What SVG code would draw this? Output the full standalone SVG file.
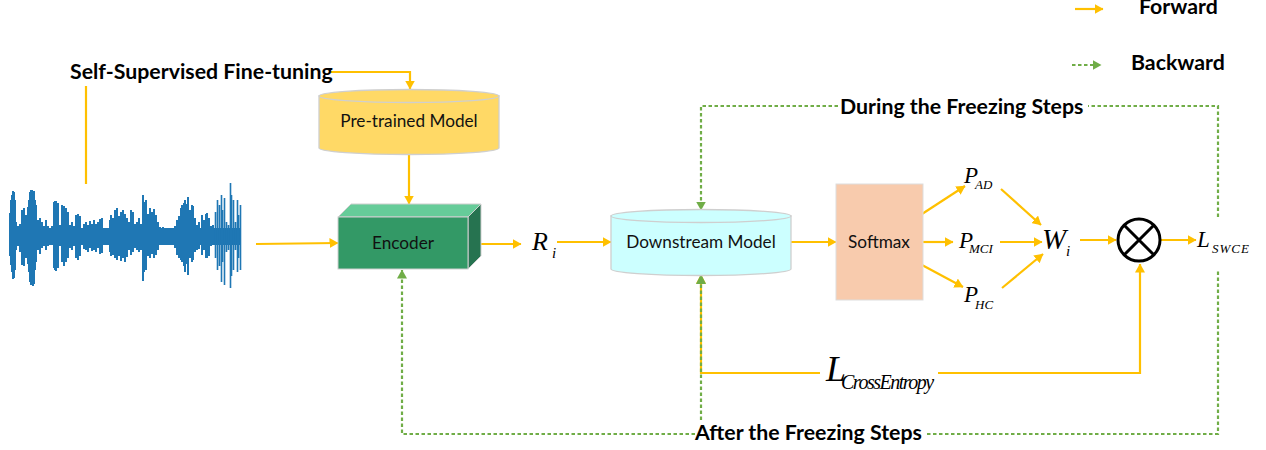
<svg xmlns="http://www.w3.org/2000/svg" width="1266" height="450" viewBox="0 0 1266 450">
<style>
.y{fill:none;stroke:#FFC000;stroke-width:2.2;marker-end:url(#ya)}
.yn{fill:none;stroke:#FFC000;stroke-width:2.2}
.g{fill:none;stroke:#70AD47;stroke-width:2.2;stroke-dasharray:3.5 2.5}
.ga{marker-end:url(#ga)}
.b{font-family:Lato,"Liberation Sans",sans-serif;font-weight:700;font-size:21.3px;fill:#000}
.n{font-family:Lato,"Liberation Sans",sans-serif;font-size:17.2px;fill:#111;text-anchor:middle}
.m{font-family:"Liberation Serif",serif;font-style:italic;fill:#000}
</style>
<defs>
<marker id="ya" markerUnits="userSpaceOnUse" markerWidth="9" markerHeight="10" refX="8.5" refY="5" orient="auto"><path d="M0 0L9 5L0 10Z" fill="#FFC000"/></marker>
<marker id="ga" markerUnits="userSpaceOnUse" markerWidth="9" markerHeight="10" refX="8.5" refY="5" orient="auto"><path d="M0 0L9 5L0 10Z" fill="#70AD47"/></marker>
</defs>
<g id="waveform">
<path fill="#1F77B4" d="M10 228H241V245H10Z"/>
<path fill="none" stroke="#1F77B4" stroke-width="2" d="M10 213V256M11 200V265M12 195V272M13 191V279M14 192V278M15 200V270M16 222V250M18 226V246M20 224V252M22 210V265M23 215V258M24 208V266M26 215V258M28 207V264M29 200V272M30 192V282M31 190V285M32 190V284M33 191V286M34 191V284M35 200V270M36 205V262M38 220V250M40 218V254M42 222V248M44 226V246M46 220V250M48 226V246M50 228V244M52 226V245M54 202V268M55 201V270M56 201V271M57 203V266M58 203V268M60 225V246M62 205V262M63 215V255M64 206V266M65 212V258M66 208V262M68 212V258M70 225V248M72 222V250M74 226V246M76 215V258M77 220V252M78 214V260M80 216V256M82 228V244M84 224V249M86 222V250M88 225V252M90 221V248M92 224V251M94 220V250M96 224V252M98 222V248M100 219V254M102 218V253M104 228V244M110 220V252M111 215V256M113 218V255M115 210V258M117 208V260M119 216V256M121 212V261M123 210V258M125 214V262M127 218V257M129 222V250M131 210V255M133 212V252M135 224V248M137 222V250M139 218V252M141 224V250M143 195V281M144 202V272M146 200V270M148 214V256M150 208V258M152 212V254M154 209V258M156 215V255M158 222V250M160 227V245M163 227V245M175 226V248M177 220V255M179 216V258M181 208V260M182 205V262M184 203V266M185 200V272M187 204V264M188 197V275M190 210V258M192 205V262M193 206V260M195 218V252M197 225V250M199 222V249M202 215V255M204 220V250M206 214V258M207 213V258M209 218V256M211 226V246M213 225V245"/>
<path fill="none" stroke="#1F77B4" stroke-width="1.6" transform="translate(0.5 0)" d="M215 212V258M217 200V270M219 205V266M221 195V282M222 210V262M224 198V285M226 222V252M228 225V250M230 183V288M231 195V276M233 200V270M235 222V250M237 200V272M238 215V258M240 205V270"/>
</g>
<g id="connectors">
<path class="y" d="M331 72H410V89"/>
<path class="yn" d="M86 86V184"/>
<path class="y" d="M409 154V204"/>
<path class="y" d="M256 244L338 243"/>
<path class="y" d="M480 244H521"/>
<path class="y" d="M557 242H611"/>
<path class="y" d="M790 242H836"/>
<path class="y" d="M922 214L965 186"/>
<path class="y" d="M922 242H953"/>
<path class="y" d="M922 265L963 287"/>
<path class="y" d="M1001 189L1041 225"/>
<path class="y" d="M1000 242H1042"/>
<path class="y" d="M1002 288L1043 254"/>
<path class="y" d="M1080 240H1116"/>
<path class="y" d="M1161 240H1196"/>
<path class="y" d="M938 373H1140V264"/>
<path class="y" d="M820 373H701V275"/>
<path class="y" d="M1075 9H1103"/>
<path class="g" d="M701 420V284"/>
<path class="g ga" d="M695 434H402V270"/>
<path class="g" d="M927 434H1218V270"/>
<path class="g" d="M1218 217V106H1088"/>
<path class="g ga" d="M838 106H701V210"/>
<path d="M696 284L701 274L706 284Z" fill="#70AD47"/>
<path class="g ga" d="M1072 65H1101"/>
</g>
<g id="pretrained">
<path d="M319 96V148A90 6.5 0 0 0 499 148V96Z" fill="#FFD966" stroke="#CFCFCF" stroke-width="1.3"/>
<ellipse cx="409" cy="96" rx="90" ry="6.5" fill="#FFD966" stroke="#CFCFCF" stroke-width="1.3"/>
<text class="n" x="409" y="127">Pre-trained Model</text>
</g>
<g id="encoder">
<path d="M338 217L351 204H481L468 217Z" fill="#66CC99" stroke="#CFCFCF"/>
<path d="M468 217L481 204V256L468 269Z" fill="#267350" stroke="#CFCFCF"/>
<rect x="338" y="217" width="130" height="52" fill="#339966" stroke="#CFCFCF"/>
<text class="n" x="403" y="249">Encoder</text>
</g>
<g id="downstream">
<path d="M611 216V269A90 6.5 0 0 0 791 269V216Z" fill="#CCFFFF" stroke="#CFCFCF" stroke-width="1.3"/>
<ellipse cx="701" cy="216" rx="90" ry="6.5" fill="#CCFFFF" stroke="#CFCFCF" stroke-width="1.3"/>
<text class="n" x="701" y="248">Downstream Model</text>
</g>
<g id="softmax">
<rect x="836" y="184" width="87" height="116" fill="#F8CBAD" stroke="#DDDDDD"/>
<text class="n" x="879" y="248">Softmax</text>
</g>
<g id="multiply">
<circle cx="1139" cy="240" r="21" fill="#fff" stroke="#000" stroke-width="3"/>
<path d="M1124 225L1154 255M1154 225L1124 255" stroke="#000" stroke-width="3"/>
</g>
<g id="labels">
<text class="b" x="70" y="79">Self-Supervised Fine-tuning</text>
<text class="b" x="840" y="114">During the Freezing Steps</text>
<text class="b" x="695" y="440">After the Freezing Steps</text>
<text class="b" x="1139" y="14">Forward</text>
<text class="b" x="1131" y="70">Backward</text>
<text class="m" x="532" y="250" font-size="26">R</text>
<text class="m" x="552" y="258" font-size="15">i</text>
<text class="m" x="964" y="183" font-size="23">P</text>
<text class="m" x="975" y="189" font-size="13">AD</text>
<text class="m" x="959" y="248" font-size="23">P</text>
<text class="m" x="969" y="253" font-size="13">MCI</text>
<text class="m" x="964" y="302" font-size="23">P</text>
<text class="m" x="975" y="309" font-size="13">HC</text>
<text class="m" x="1042" y="249" font-size="29">W</text>
<text class="m" x="1066" y="256" font-size="15">i</text>
<text class="m" x="1197" y="247" font-size="23">L</text>
<text class="m" x="1212" y="253" font-size="13" letter-spacing="1">SWCE</text>
<text class="m" x="826" y="381" font-size="36">L</text>
<text class="m" x="841" y="389" font-size="20" letter-spacing="-1.5">CrossEntropy</text>
</g>
</svg>
